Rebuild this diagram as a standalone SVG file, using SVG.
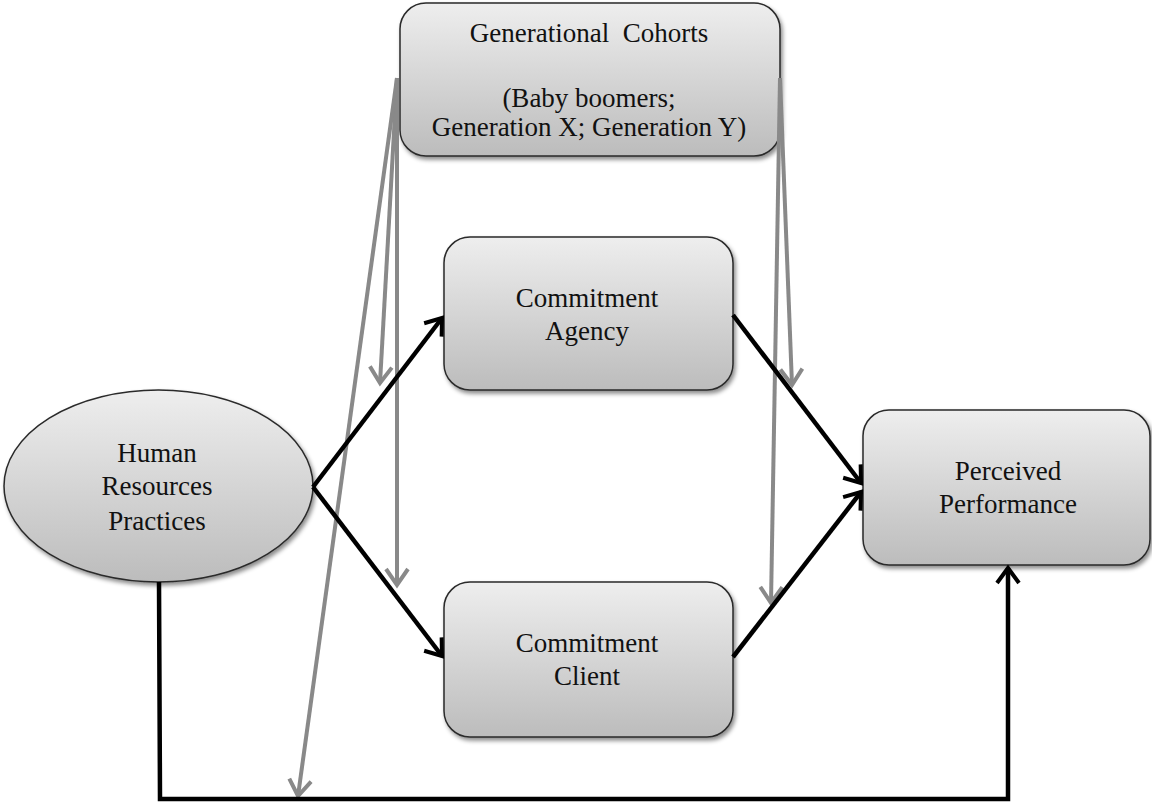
<svg xmlns="http://www.w3.org/2000/svg" width="1152" height="806" viewBox="0 0 1152 806">
<defs>
<linearGradient id="g" x1="0" y1="0" x2="0" y2="1">
<stop offset="0" stop-color="#eeeeee"/>
<stop offset="1" stop-color="#bcbcbc"/>
</linearGradient>
<filter id="sh" x="-10%" y="-10%" width="130%" height="130%">
<feDropShadow dx="2" dy="3" stdDeviation="2" flood-color="#000" flood-opacity="0.45"/>
</filter>
<marker id="ab" markerUnits="userSpaceOnUse" markerWidth="40" markerHeight="40" viewBox="-20 -20 40 40" refX="0" refY="0" orient="auto">
<path d="M-15,-11 L0,0 L-15,11" fill="none" stroke="#000" stroke-width="4" stroke-linejoin="miter"/>
</marker>
<marker id="ag" markerUnits="userSpaceOnUse" markerWidth="40" markerHeight="40" viewBox="-20 -20 40 40" refX="0" refY="0" orient="auto">
<path d="M-16,-11 L0,0 L-16,11" fill="none" stroke="#898989" stroke-width="4" stroke-linejoin="miter"/>
</marker>
</defs>
<style>
.box{fill:url(#g);stroke:#2a2a2a;stroke-width:1.5;filter:url(#sh)}
.t{font-family:'Liberation Serif',serif;font-size:27px;fill:#111;text-anchor:middle}
.blk{fill:none;stroke:#000;stroke-width:4.5}
.gry{fill:none;stroke:#898989;stroke-width:4}
</style>
<rect width="1152" height="806" fill="#fff"/>
<g id="gen">
<rect class="box" x="400" y="3" width="380" height="153" rx="26"/>
<text class="t" x="589" y="42" xml:space="preserve">Generational  Cohorts</text>
<text class="t" x="589" y="107">(Baby boomers;</text>
<text class="t" x="589" y="136">Generation X; Generation Y)</text>
</g>
<g id="agency">
<rect class="box" x="444" y="237" width="289" height="153" rx="26"/>
<text class="t" x="587" y="307">Commitment</text>
<text class="t" x="587" y="340">Agency</text>
</g>
<g id="client">
<rect class="box" x="444" y="582" width="289" height="155" rx="26"/>
<text class="t" x="587" y="652">Commitment</text>
<text class="t" x="587" y="685">Client</text>
</g>
<g id="perf">
<rect class="box" x="863" y="410" width="287" height="155" rx="26"/>
<text class="t" x="1008" y="480">Perceived</text>
<text class="t" x="1008" y="513">Performance</text>
</g>
<g id="hrp">
<ellipse class="box" cx="158.5" cy="486" rx="154.5" ry="96"/>
<text class="t" x="157" y="462">Human</text>
<text class="t" x="157" y="495">Resources</text>
<text class="t" x="157" y="530">Practices</text>
</g>
<g id="connectors">
<line class="gry" x1="397" y1="78" x2="380" y2="383" marker-end="url(#ag)"/>
<line class="gry" x1="397" y1="78" x2="397" y2="585" marker-end="url(#ag)"/>
<line class="gry" x1="397" y1="78" x2="298" y2="796" marker-end="url(#ag)"/>
<line class="gry" x1="780" y1="78" x2="792" y2="385" marker-end="url(#ag)"/>
<line class="gry" x1="780" y1="78" x2="771" y2="603" marker-end="url(#ag)"/>
<line class="blk" x1="313" y1="487" x2="442" y2="318" marker-end="url(#ab)"/>
<line class="blk" x1="313" y1="487" x2="442" y2="656" marker-end="url(#ab)"/>
<line class="blk" x1="733" y1="315" x2="861" y2="483" marker-end="url(#ab)"/>
<line class="blk" x1="733" y1="657" x2="861" y2="492" marker-end="url(#ab)"/>
<polyline class="blk" points="159,582 160,799 1008,799 1008,568" marker-end="url(#ab)"/>
</g>
</svg>
